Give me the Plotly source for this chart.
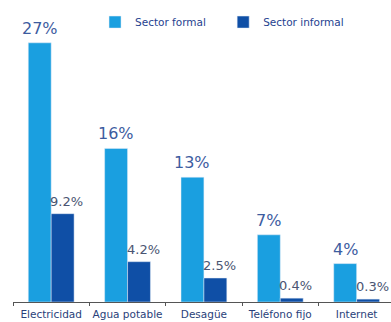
import plotly.graph_objects as go

categories = ["Electricidad", "Agua potable", "Desagüe", "Teléfono fijo", "Internet"]
formal = [27, 16, 13, 7, 4]
informal = [9.2, 4.2, 2.5, 0.4, 0.3]
formal_labels = [f"{v:.0f}%" for v in formal]
informal_labels = [f"{v:.1f}%" for v in informal]

formal_color = "#1a9fe0"
informal_color = "#0f4fa6"
FONT = "DejaVu Sans"

fig = go.Figure()
fig.add_trace(go.Bar(
    x=categories, y=formal, name="Sector formal",
    marker_color=formal_color, legend="legend",
))
fig.add_trace(go.Bar(
    x=categories, y=informal, name="Sector informal",
    marker_color=informal_color, legend="legend2",
))

bar_px = 23
for c, v, t in zip(categories, formal, formal_labels):
    fig.add_annotation(x=c, y=v, text=t, showarrow=False, xanchor="center", yanchor="bottom",
                       xshift=-bar_px / 2, yshift=3,
                       font=dict(size=16, color="#3d5c9f", family=FONT))
for c, v, t in zip(categories, informal, informal_labels):
    fig.add_annotation(x=c, y=v, text=t, showarrow=False, xanchor="center", yanchor="bottom",
                       xshift=bar_px / 2 + 4, yshift=3,
                       font=dict(size=13, color="#4a5572", family=FONT))

leg_common = dict(orientation="h", y=0.972, xanchor="left", yanchor="middle",
                  font=dict(size=10.5, color="#1f3f8f", family=FONT),
                  bgcolor="rgba(0,0,0,0)", itemwidth=30)
fig.update_layout(
    width=391, height=322,
    margin=dict(l=13, r=0, t=14, b=20, autoexpand=False),
    paper_bgcolor="white", plot_bgcolor="white",
    barmode="group", bargap=0.4, bargroupgap=0,
    font=dict(family=FONT, color="#2a3f7a"),
    showlegend=True,
    legend=dict(x=0.217, **leg_common),
    legend2=dict(x=0.556, **leg_common),
)
fig.update_xaxes(
    range=[-0.5, 4.45], showline=True, linecolor="#555555", linewidth=1,
    ticks="outside", tickson="boundaries", ticklen=3, tickcolor="#555555",
    tickangle=0, automargin=False, ticklabelstandoff=2,
    tickfont=dict(size=10.5, color="#2a3f7a", family=FONT), showgrid=False,
)
fig.update_yaxes(range=[0, 30], visible=False, showgrid=False)

fig.write_html("out.html")
